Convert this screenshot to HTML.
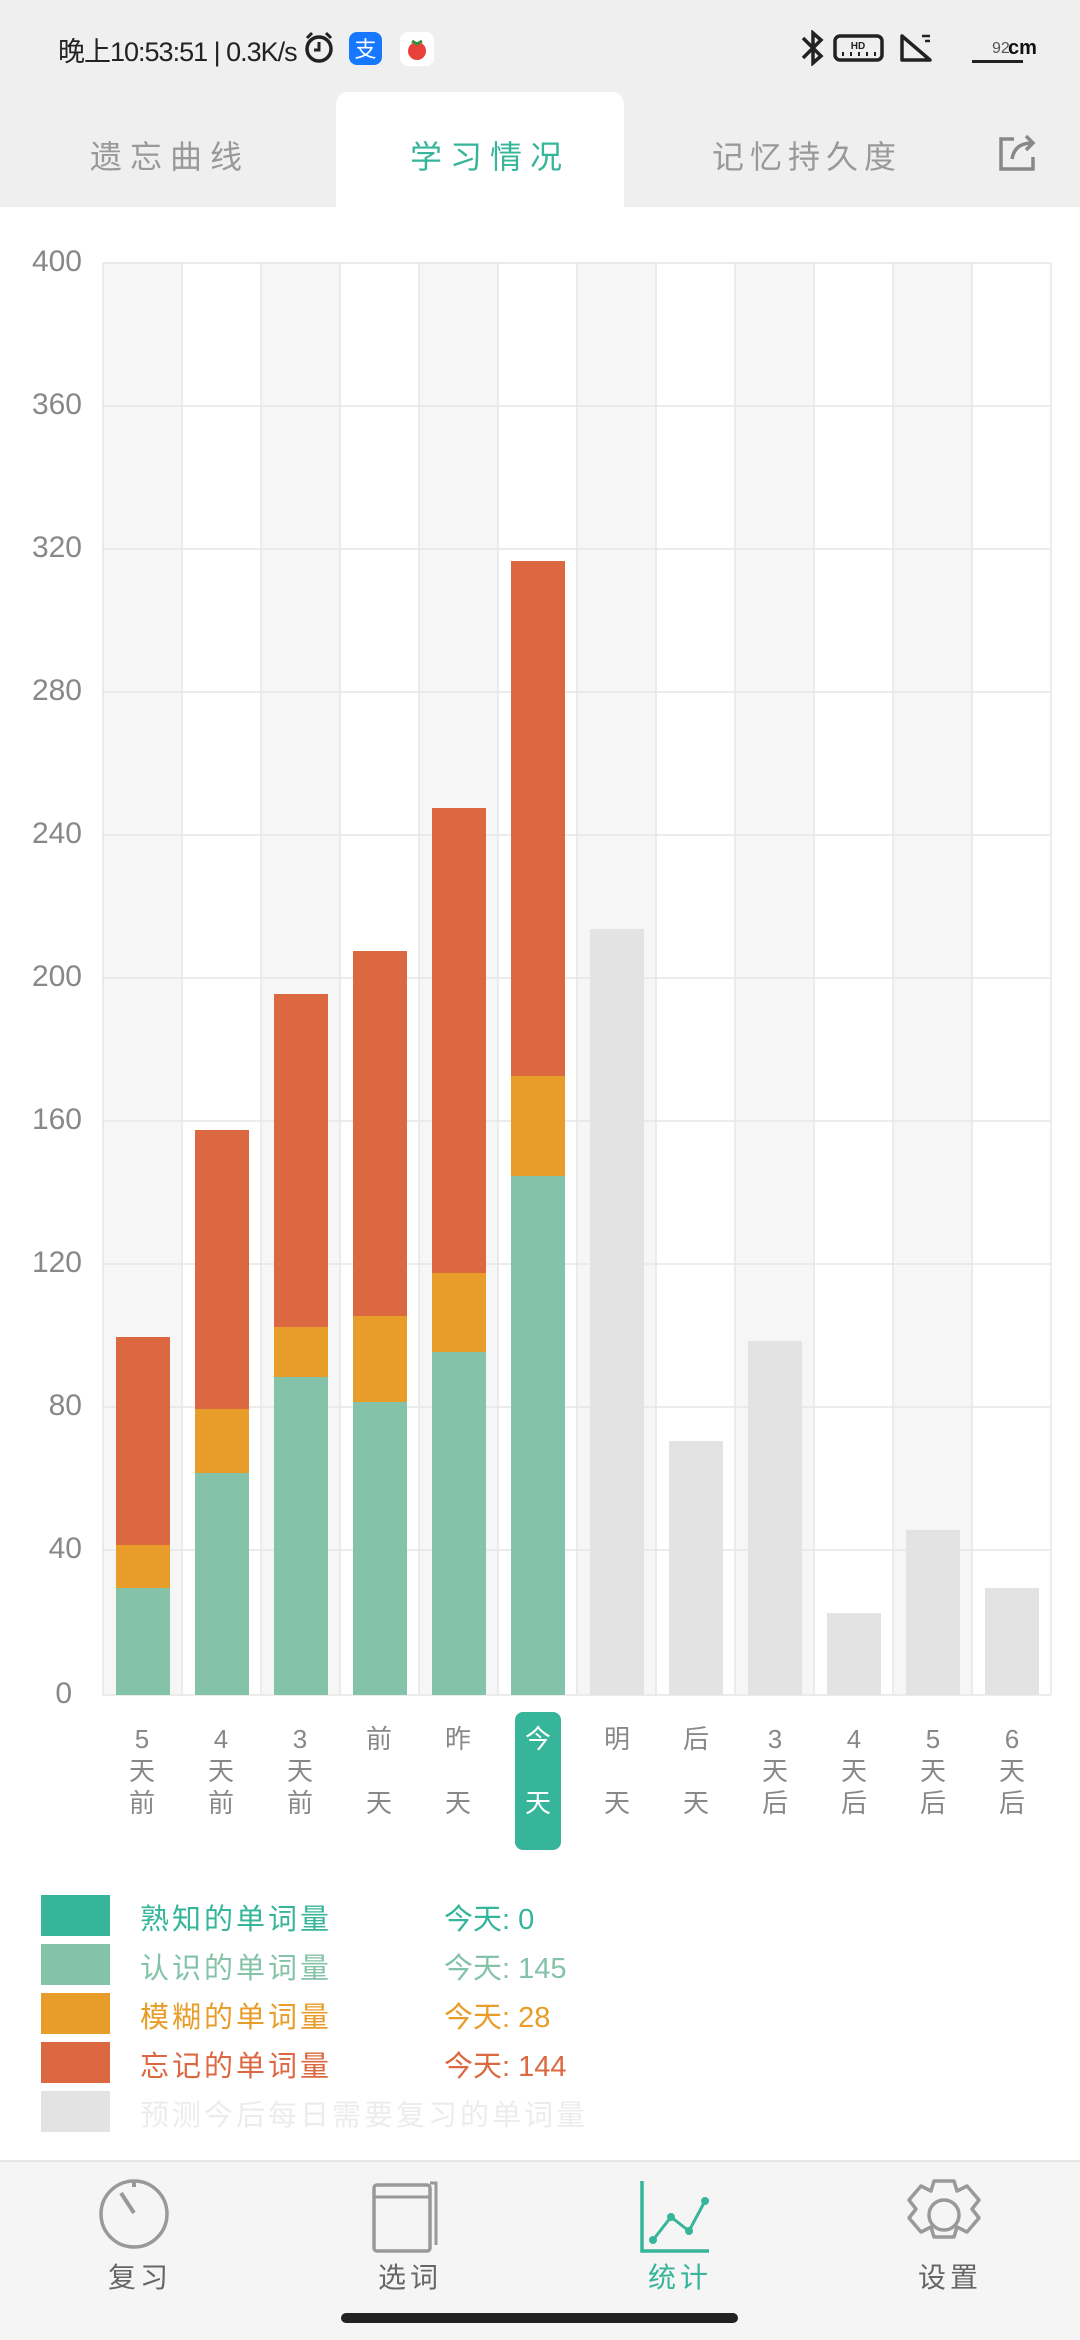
<!DOCTYPE html>
<html><head><meta charset="utf-8"><style>
*{margin:0;padding:0;box-sizing:border-box}
body{width:1080px;height:2340px;background:#fff;position:relative;overflow:hidden;font-family:"Liberation Sans","Noto Sans CJK SC",sans-serif}
.a{position:absolute;white-space:nowrap}
</style></head><body>
<div class="a" style="left:0;top:0;width:1080px;height:207px;background:#efefef"></div>
<div class="a" style="left:336px;top:92px;width:288px;height:116px;background:#fff;border-radius:12px 12px 0 0"></div>
<!-- status bar -->
<div class="a" style="left:58px;top:30px;font-size:27px;color:#222;letter-spacing:-1px">晚上10:53:51 | 0.3K/s</div>
<svg class="a" style="left:302px;top:30px" width="140" height="36" viewBox="0 0 140 36">
<circle cx="17" cy="19" r="12" fill="none" stroke="#222" stroke-width="3.5"/><path d="M17 12v8h-5" stroke="#222" stroke-width="3" fill="none"/>
<path d="M5 8l5-5M29 8l-5-5" stroke="#222" stroke-width="3"/>
<rect x="47" y="2" width="33" height="33" rx="8" fill="#1677ff"/><text x="63.5" y="27" font-size="22" fill="#fff" text-anchor="middle" font-family="Noto Sans CJK SC">支</text>
<rect x="98" y="2" width="34" height="34" rx="8" fill="#fff"/><circle cx="115" cy="21" r="9" fill="#e8413a"/><path d="M110 11l5 3 5-3" stroke="#3a8d3a" stroke-width="3" fill="none"/>
</svg>
<svg class="a" style="left:795px;top:30px" width="260" height="36" viewBox="0 0 260 36">
<path d="M8 8l18 18-8 7V3l8 7L8 28" stroke="#222" stroke-width="3.5" fill="none"/>
<rect x="40" y="6" width="47" height="24" rx="5" fill="none" stroke="#222" stroke-width="3.5"/><text x="63" y="19" font-size="10" font-weight="bold" text-anchor="middle" fill="#222">HD</text>
<path d="M48 22v4M56 22v4M64 22v4M72 22v4M80 22v4" stroke="#222" stroke-width="2"/>
<path d="M107 6v24h28z" fill="none" stroke="#222" stroke-width="3.5" stroke-linejoin="round"/><path d="M127 6h8M130 11h5" stroke="#222" stroke-width="2.5"/>
<text x="197" y="23" font-size="16" fill="#555">92</text><text x="213" y="24" font-size="20" font-weight="bold" fill="#111">cm</text>
<rect x="177" y="30" width="51" height="3" fill="#222"/>
</svg>
<!-- tabs -->
<div class="a" style="left:90px;top:132px;font-size:32px;color:#999;letter-spacing:8px">遗忘曲线</div>
<div class="a" style="left:410px;top:132px;font-size:32px;color:#36b59b;letter-spacing:8px">学习情况</div>
<div class="a" style="left:712px;top:132px;font-size:32px;color:#999;letter-spacing:6px">记忆持久度</div>
<svg class="a" style="left:998px;top:133px" width="40" height="40" viewBox="0 0 40 40"><path d="M16 6H3v30h32V24" fill="none" stroke="#888" stroke-width="3.5"/><path d="M14 26c2-12 10-16 20-16M28 3l7 7-7 7" fill="none" stroke="#888" stroke-width="3.5"/></svg>
<!-- chart -->
<svg class="a" style="left:0;top:0" width="1080" height="1900" viewBox="0 0 1080 1900">
<g fill="#f6f6f6">
<rect x="103" y="263" width="79" height="1432"/><rect x="261" y="263" width="79" height="1432"/><rect x="419" y="263" width="79" height="1432"/><rect x="577" y="263" width="79" height="1432"/><rect x="735" y="263" width="79" height="1432"/><rect x="893" y="263" width="79" height="1432"/>
</g>
<g stroke="#e6e6e6" stroke-width="1.5">
<path d="M103 263H1051M103 406H1051M103 549H1051M103 692H1051M103 835H1051M103 978H1051M103 1121H1051M103 1264H1051M103 1407H1051M103 1550H1051M103 1695H1051"/>
<path d="M103 263V1695M182 263V1695M261 263V1695M340 263V1695M419 263V1695M498 263V1695M577 263V1695M656 263V1695M735 263V1695M814 263V1695M893 263V1695M972 263V1695M1051 263V1695"/>
</g>
<g font-size="30" fill="#888" text-anchor="end" font-family="Liberation Sans">
<text x="82" y="271">400</text><text x="82" y="414">360</text><text x="82" y="557">320</text><text x="82" y="700">280</text><text x="82" y="843">240</text><text x="82" y="986">200</text><text x="82" y="1129">160</text><text x="82" y="1272">120</text><text x="82" y="1415">80</text><text x="82" y="1558">40</text><text x="72" y="1703">0</text>
</g>
<g fill="#84c3a9">
<rect x="116" y="1588" width="54" height="107"/><rect x="195" y="1473" width="54" height="222"/><rect x="274" y="1377" width="54" height="318"/><rect x="353" y="1402" width="54" height="293"/><rect x="432" y="1352" width="54" height="343"/><rect x="511" y="1176" width="54" height="519"/>
</g>
<g fill="#e89d2a">
<rect x="116" y="1545" width="54" height="43"/><rect x="195" y="1409" width="54" height="64"/><rect x="274" y="1327" width="54" height="50"/><rect x="353" y="1316" width="54" height="86"/><rect x="432" y="1273" width="54" height="79"/><rect x="511" y="1076" width="54" height="100"/>
</g>
<g fill="#dc6841">
<rect x="116" y="1337" width="54" height="208"/><rect x="195" y="1130" width="54" height="279"/><rect x="274" y="994" width="54" height="333"/><rect x="353" y="951" width="54" height="365"/><rect x="432" y="808" width="54" height="465"/><rect x="511" y="561" width="54" height="515"/>
</g>
<g fill="#e3e3e3">
<rect x="590" y="929" width="54" height="766"/><rect x="669" y="1441" width="54" height="254"/><rect x="748" y="1341" width="54" height="354"/><rect x="827" y="1613" width="54" height="82"/><rect x="906" y="1530" width="54" height="165"/><rect x="985" y="1588" width="54" height="107"/>
</g>
<rect x="515" y="1712" width="46" height="138" rx="8" fill="#36b59b"/>
<g font-size="26" fill="#888" text-anchor="middle" font-family="Liberation Sans,Noto Sans CJK SC">
<text x="142" y="1748">5</text><text x="142" y="1780">天</text><text x="142" y="1812">前</text>
<text x="221" y="1748">4</text><text x="221" y="1780">天</text><text x="221" y="1812">前</text>
<text x="300" y="1748">3</text><text x="300" y="1780">天</text><text x="300" y="1812">前</text>
<text x="379" y="1748">前</text><text x="379" y="1812">天</text>
<text x="458" y="1748">昨</text><text x="458" y="1812">天</text>
<text x="538" y="1748" fill="#fff">今</text><text x="538" y="1812" fill="#fff">天</text>
<text x="617" y="1748">明</text><text x="617" y="1812">天</text>
<text x="696" y="1748">后</text><text x="696" y="1812">天</text>
<text x="775" y="1748">3</text><text x="775" y="1780">天</text><text x="775" y="1812">后</text>
<text x="854" y="1748">4</text><text x="854" y="1780">天</text><text x="854" y="1812">后</text>
<text x="933" y="1748">5</text><text x="933" y="1780">天</text><text x="933" y="1812">后</text>
<text x="1012" y="1748">6</text><text x="1012" y="1780">天</text><text x="1012" y="1812">后</text>
</g>
</svg>
<!-- legend -->
<div class="a" style="left:41px;top:1895px;width:69px;height:41px;background:#36b59b"></div>
<div class="a" style="left:41px;top:1944px;width:69px;height:41px;background:#84c3a9"></div>
<div class="a" style="left:41px;top:1993px;width:69px;height:41px;background:#e89d2a"></div>
<div class="a" style="left:41px;top:2042px;width:69px;height:41px;background:#dc6841"></div>
<div class="a" style="left:41px;top:2091px;width:69px;height:41px;background:#e3e3e3"></div>
<div class="a" style="left:140px;top:1896px;font-size:29px;color:#36b59b;letter-spacing:3px">熟知的单词量</div>
<div class="a" style="left:444px;top:1896px;font-size:29px;color:#36b59b">今天: 0</div>
<div class="a" style="left:140px;top:1945px;font-size:29px;color:#84c3a9;letter-spacing:3px">认识的单词量</div>
<div class="a" style="left:444px;top:1945px;font-size:29px;color:#84c3a9">今天: 145</div>
<div class="a" style="left:140px;top:1994px;font-size:29px;color:#e89d2a;letter-spacing:3px">模糊的单词量</div>
<div class="a" style="left:444px;top:1994px;font-size:29px;color:#e89d2a">今天: 28</div>
<div class="a" style="left:140px;top:2043px;font-size:29px;color:#dc6841;letter-spacing:3px">忘记的单词量</div>
<div class="a" style="left:444px;top:2043px;font-size:29px;color:#dc6841">今天: 144</div>
<div class="a" style="left:140px;top:2092px;font-size:29px;color:#ececec;letter-spacing:3px">预测今后每日需要复习的单词量</div>
<!-- nav -->
<div class="a" style="left:0;top:2160px;width:1080px;height:180px;background:#f5f5f5;border-top:2px solid #e6e6e6"></div>
<svg class="a" style="left:0;top:2175px" width="1080" height="80" viewBox="0 0 1080 80">
<circle cx="134" cy="39" r="33" fill="none" stroke="#999" stroke-width="3.5"/><path d="M134 6v6M121 18l13 20" stroke="#999" stroke-width="4"/>
<rect x="374" y="10" width="56" height="66" rx="3" fill="none" stroke="#999" stroke-width="3.5"/><path d="M374 22h56M430 8h6v62" stroke="#999" stroke-width="3" fill="none"/>
<path d="M642 6v70h67" fill="none" stroke="#36b59b" stroke-width="3.5"/><path d="M653 65l18-23 18 14 16-30" fill="none" stroke="#36b59b" stroke-width="3"/>
<circle cx="653" cy="65" r="4" fill="#36b59b"/><circle cx="671" cy="42" r="4" fill="#36b59b"/><circle cx="689" cy="56" r="4" fill="#36b59b"/><circle cx="705" cy="26" r="4" fill="#36b59b"/>
<path d="M934 6h20l3 10 10-5 12 14-7 9 7 9-12 14-10-5-3 10h-20l-3-10-10 5-12-14 7-9-7-9 12-14 10 5z" fill="none" stroke="#999" stroke-width="3.5" stroke-linejoin="round"/>
<circle cx="944" cy="40" r="15" fill="none" stroke="#999" stroke-width="3.5"/>
</svg>
<div class="a" style="left:108px;top:2256px;font-size:28px;color:#666;letter-spacing:4px">复习</div>
<div class="a" style="left:378px;top:2256px;font-size:28px;color:#666;letter-spacing:4px">选词</div>
<div class="a" style="left:648px;top:2256px;font-size:28px;color:#36b59b;letter-spacing:4px">统计</div>
<div class="a" style="left:918px;top:2256px;font-size:28px;color:#666;letter-spacing:4px">设置</div>
<div class="a" style="left:341px;top:2313px;width:397px;height:10px;border-radius:5px;background:#222"></div>
</body></html>
